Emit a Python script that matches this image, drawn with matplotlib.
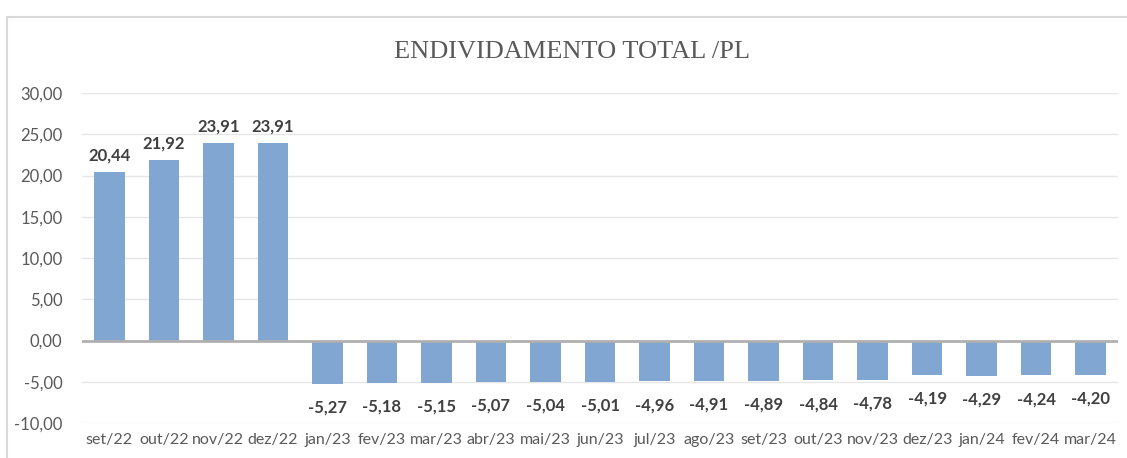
import matplotlib.pyplot as plt
from matplotlib.patches import Rectangle

meses = ['set/22', 'out/22', 'nov/22', 'dez/22', 'jan/23', 'fev/23', 'mar/23',
         'abr/23', 'mai/23', 'jun/23', 'jul/23', 'ago/23', 'set/23', 'out/23',
         'nov/23', 'dez/23', 'jan/24', 'fev/24', 'mar/24']
valores = [20.44, 21.92, 23.91, 23.91, -5.27, -5.18, -5.15, -5.07, -5.04, -5.01,
           -4.96, -4.91, -4.89, -4.84, -4.78, -4.19, -4.29, -4.24, -4.20]
yticks = [-10, -5, 0, 5, 10, 15, 20, 25, 30]

def fmt(v):
    return f'{v:.2f}'.replace('.', ',')

plt.rcParams['font.family'] = ['Lato', 'DejaVu Sans']

fig = plt.figure(figsize=(11.27, 4.58), dpi=100)
# moldura do gráfico
fig.patches.append(Rectangle((7 / 1127, -0.1), 1.2, (458 - 17) / 458 + 0.1,
                             transform=fig.transFigure, fill=False,
                             edgecolor='#d9d9d9', linewidth=1.5))

ax = fig.add_axes([82 / 1127, 35 / 458, (1118 - 82) / 1127, 330 / 458])
x = range(len(meses))
ax.bar(x, valores, width=0.56, color='#82A6D2', zorder=3)

for i, v in enumerate(valores):
    if v >= 0:
        ax.text(i, v + 1.0, fmt(v), ha='center', va='bottom', fontsize=12,
                fontweight='bold', color='#404040')
    else:
        ax.text(i, v - 1.9, fmt(v), ha='center', va='top', fontsize=12,
                fontweight='bold', color='#404040')

ax.set_ylim(-10, 30)
ax.set_xlim(-0.5, len(meses) - 0.5)
ax.set_yticks(yticks)
ax.set_yticklabels([fmt(t) for t in yticks])
ax.set_xticks(list(x))
ax.set_xticklabels(meses)
ax.tick_params(axis='both', length=0, labelcolor='#595959')
ax.tick_params(axis='y', pad=14, labelsize=12)
ax.tick_params(axis='x', pad=7, labelsize=11.5)
ax.grid(axis='y', color='#e6e6e6', linewidth=1, zorder=0)
ax.axhline(0, color='#b0b0b0', linewidth=2, zorder=4)
for s in ax.spines.values():
    s.set_visible(False)

fig.text(572 / 1127, 1 - 52 / 458, 'ENDIVIDAMENTO TOTAL /PL', ha='center',
         va='center', fontsize=19, color='#595959', family='Liberation Serif')

fig.savefig('out.png', dpi=100)
